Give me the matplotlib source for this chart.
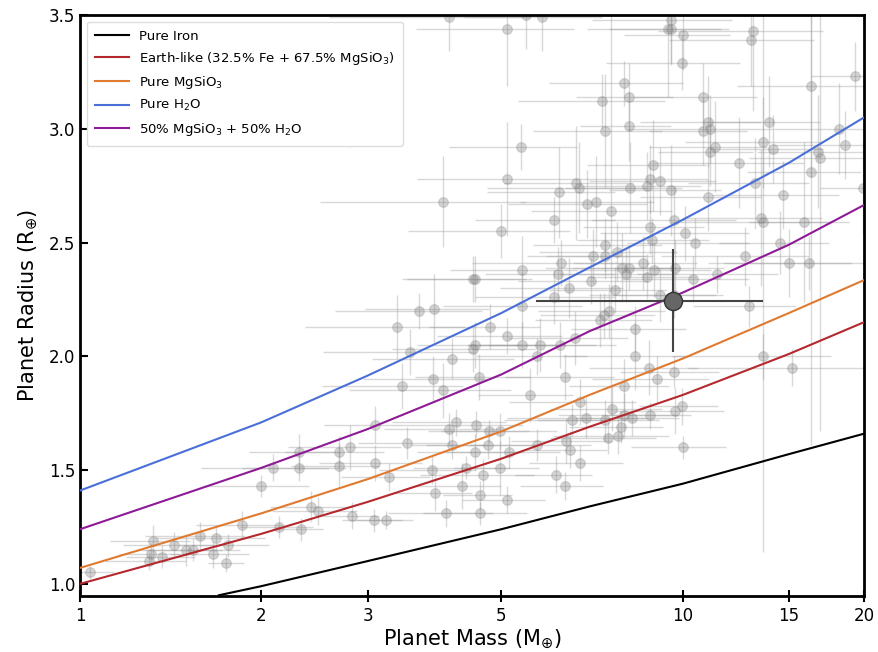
import matplotlib
matplotlib.use("Agg")
import matplotlib.pyplot as plt
import numpy as np

# model curves
curve_mass = [1, 2, 3, 5, 7, 10, 15, 20]
iron_mass = [1.7, 2, 3, 5, 7, 10, 15, 20]
iron_r = [0.95, 0.99, 1.10, 1.24, 1.34, 1.44, 1.57, 1.66]
earth_r = [1.00, 1.22, 1.36, 1.55, 1.69, 1.83, 2.01, 2.15]
mgsio3_r = [1.07, 1.31, 1.46, 1.67, 1.83, 1.99, 2.19, 2.335]
h2o_r = [1.41, 1.71, 1.915, 2.19, 2.39, 2.60, 2.85, 3.05]
mix_r = [1.24, 1.51, 1.68, 1.92, 2.11, 2.28, 2.49, 2.665]

# known planets: mass, radius, mass error, radius error
pl_mass = [1.04, 1.32, 1.31, 1.30, 1.37, 1.43, 1.50, 1.54, 1.58, 1.66, 1.68, 1.76, 1.75, 1.86, 2.00, 2.09,
           2.31, 2.31, 2.14, 2.33, 2.42, 2.48, 2.69, 2.69, 2.81, 2.83, 3.09, 3.09, 3.07, 3.22, 3.26, 3.49,
           3.84, 3.88, 4.05, 4.09, 4.20, 4.14, 4.30, 4.37,
           4.54, 4.52, 4.75, 4.77, 4.67, 4.61, 4.61, 4.98, 4.98, 5.11, 5.15, 5.74, 6.17, 6.38, 6.40, 6.50,
           6.55, 6.76, 6.92, 7.53, 7.63, 7.80, 7.89, 8.00, 8.25, 8.83, 7.44,
           10.0, 9.70, 9.96,
           9.67, 13.6, 15.2, 12.9, 9.70, 10.4, 11.4, 12.7, 10.1, 10.5, 9.67, 13.5, 13.6, 14.5, 15.0, 16.2,
           15.9, 9.67,
           5.00, 6.12, 4.52, 5.41, 5.41, 4.79, 4.52, 5.11, 5.41, 5.79, 5.74, 6.26, 6.63, 6.38, 5.58, 4.59,
           6.12, 6.20, 6.28, 6.47, 7.04, 7.11, 7.44, 7.44, 7.77, 7.71, 7.92, 8.04, 8.15, 8.58, 8.96, 8.73,
           8.83, 8.88, 7.29, 7.40, 7.55, 8.33, 8.33, 8.79, 9.07, 7.99, 6.76, 9.18,
           4.49, 3.65, 3.87, 3.36, 3.53, 4.15, 4.49, 3.85, 4.00, 3.42,
           2.81, 4.09, 4.00,
           5.11, 5.50, 5.84, 8.00, 8.15, 7.34, 7.44, 8.15, 5.39, 5.12, 6.23, 6.66, 6.73, 6.94, 7.18, 7.60,
           8.18, 8.73, 8.83, 8.93, 9.18, 9.45,
           9.56, 9.56, 10.0, 9.96, 13.1, 13.0, 19.3, 16.3, 10.8, 13.9, 11.0, 10.8, 11.1, 13.6, 14.1, 11.3,
           11.1, 12.4, 18.2, 18.6, 16.8, 16.9, 16.3, 13.2, 14.7, 9.56, 11.0, 19.9]
pl_radius = [1.05, 1.19, 1.13, 1.10, 1.12, 1.17, 1.15, 1.15, 1.21, 1.13, 1.20, 1.17, 1.09, 1.26, 1.43, 1.51,
             1.58, 1.51, 1.25, 1.24, 1.34, 1.32, 1.58, 1.52, 1.60, 1.30, 1.70, 1.53, 1.28, 1.28, 1.47, 1.62,
             1.50, 1.40, 1.31, 1.68, 1.71, 1.61, 1.43, 1.51,
             1.70, 1.58, 1.61, 1.67, 1.48, 1.39, 1.31, 1.51, 1.67, 1.37, 1.58, 1.61, 1.48, 1.43, 1.63, 1.59,
             1.72, 1.53, 1.73, 1.64, 1.77, 1.65, 1.69, 1.74, 1.73, 1.74, 1.72,
             1.60, 1.76, 1.78,
             1.93, 2.00, 1.95, 2.22, 2.39, 2.34, 2.36, 2.44, 2.54, 2.50, 2.60, 2.61, 2.59, 2.50, 2.41, 2.41,
             2.59, 2.27,
             2.55, 2.60, 2.34, 2.38, 2.22, 2.13, 2.05, 2.09, 2.05, 2.05, 2.00, 2.05, 2.08, 1.91, 1.83, 1.91,
             2.26, 2.36, 2.41, 2.30, 2.33, 2.44, 2.49, 2.44, 2.46, 2.29, 2.39, 2.36, 2.39, 2.41, 2.38, 2.35,
             2.57, 2.51, 2.16, 2.18, 2.20, 2.12, 2.00, 1.95, 1.90, 1.87, 1.80, 2.27,
             2.34, 2.20, 2.21, 2.13, 2.02, 1.99, 2.03, 1.90, 1.85, 1.87,
             3.00, 3.49, 2.68,
             3.44, 3.50, 3.49, 3.20, 3.14, 3.12, 2.99, 3.01, 2.92, 2.78, 2.72, 2.76, 2.74, 2.67, 2.68, 2.64,
             2.74, 2.75, 2.78, 2.84, 2.77, 3.44,
             3.48, 3.44, 3.41, 3.29, 3.43, 3.39, 3.23, 3.19, 3.14, 3.03, 3.03, 2.99, 3.00, 2.94, 2.91, 2.92,
             2.90, 2.85, 3.00, 2.93, 2.90, 2.87, 2.81, 2.76, 2.71, 2.73, 2.70, 2.74]
pl_mass_err = [0.10, 0.20, 0.15, 0.20, 0.18, 0.25, 0.22, 0.30, 0.30, 0.25, 0.35, 0.30, 0.12, 0.30, 0.40, 0.50,
               0.40, 0.45, 0.30, 0.20, 0.35, 0.40, 0.50, 0.45, 0.60, 0.30, 0.55, 0.60, 0.35, 0.35, 0.55, 0.60,
               0.70, 0.60, 0.80, 0.90, 0.90, 0.60, 0.70, 0.80,
               0.90, 0.90, 1.00, 0.80, 1.00, 0.60, 0.90, 0.80, 1.20, 0.80, 1.10, 1.30, 0.90, 1.00, 1.20, 1.00,
               1.50, 1.20, 1.80, 1.50, 1.60, 1.70, 1.40, 1.80, 1.60, 1.50, 1.70,
               1.80, 2.00, 1.50,
               1.80, 4.00, 5.00, 2.50, 2.00, 2.50, 3.00, 3.50, 2.80, 2.40, 2.60, 3.50, 4.00, 3.00, 4.00, 4.50,
               3.00, 2.00,
               1.50, 1.60, 1.10, 1.30, 1.40, 1.00, 0.90, 1.20, 1.00, 1.40, 1.20, 1.50, 1.50, 1.30, 1.00, 1.00,
               1.60, 1.50, 1.80, 1.50, 1.70, 1.60, 1.80, 1.50, 2.00, 1.70, 2.00, 1.80, 1.60, 2.00, 2.20, 1.80,
               2.00, 2.20, 1.60, 1.60, 1.80, 1.80, 2.00, 1.80, 2.00, 1.50, 1.60, 2.20,
               1.00, 1.00, 0.90, 1.00, 1.00, 1.10, 1.20, 0.90, 1.20, 0.90,
               0.30, 1.50, 1.50,
               1.50, 1.20, 1.50, 2.00, 1.50, 2.00, 1.80, 1.40, 1.30, 1.50, 1.50, 1.60, 2.00, 1.80, 1.80, 2.00,
               1.80, 2.00, 2.20, 2.00, 2.20, 2.50,
               2.50, 2.00, 2.00, 2.50, 4.00, 3.50, 3.00, 4.00, 2.50, 3.00, 2.50, 2.00, 3.00, 3.50, 3.00, 2.50,
               2.00, 3.50, 4.00, 4.50, 3.50, 4.00, 3.50, 3.00, 3.50, 2.00, 2.50, 3.00]
pl_radius_err = [0.03, 0.07, 0.05, 0.04, 0.05, 0.06, 0.07, 0.05, 0.06, 0.06, 0.05, 0.05, 0.04, 0.06, 0.05, 0.06,
                 0.08, 0.06, 0.05, 0.05, 0.07, 0.06, 0.07, 0.10, 0.10, 0.06, 0.08, 0.08, 0.05, 0.04, 0.06, 0.07,
                 0.06, 0.08, 0.06, 0.07, 0.06, 0.06, 0.10, 0.05,
                 0.06, 0.08, 0.06, 0.05, 0.07, 0.06, 0.05, 0.12, 0.08, 0.06, 0.07, 0.07, 0.08, 0.06, 0.10, 0.08,
                 0.07, 0.08, 0.09, 0.07, 0.10, 0.08, 0.07, 0.10, 0.08, 0.06, 0.09,
                 0.05, 0.10, 0.08,
                 0.07, 0.10, 0.08, 0.09, 0.12, 0.10, 0.08, 0.13, 0.12, 0.11, 0.15, 0.30, 1.45, 0.14, 0.15, 0.12,
                 0.35, 0.10,
                 0.12, 0.10, 0.10, 0.15, 0.15, 0.10, 0.10, 0.08, 0.10, 0.12, 0.08, 0.10, 0.12, 0.10, 0.12, 0.10,
                 0.12, 0.12, 0.10, 0.13, 0.10, 0.12, 0.12, 0.10, 0.13, 0.10, 0.15, 0.12, 0.10, 0.12, 0.12, 0.10,
                 0.12, 0.10, 0.12, 0.10, 0.12, 0.10, 0.15, 0.12, 0.10, 0.12, 0.10, 0.12,
                 0.10, 0.08, 0.15, 0.14, 0.10, 0.09, 0.10, 0.10, 0.12, 0.10,
                 0.08, 0.15, 0.20,
                 0.25, 0.15, 0.15, 0.10, 0.15, 0.12, 0.25, 0.15, 0.10, 0.25, 0.20, 0.25, 0.20, 0.15, 0.20, 0.90,
                 0.20, 0.15, 0.15, 0.20, 0.15, 0.30,
                 0.20, 0.15, 0.15, 0.12, 0.35, 0.20, 0.15, 0.40, 0.15, 0.20, 0.20, 0.15, 0.15, 0.20, 0.15, 0.20,
                 0.15, 0.20, 0.20, 0.15, 0.25, 1.20, 1.20, 0.20, 0.15, 0.20, 0.15, 0.20]

# highlighted planet
hl_mass, hl_radius = 9.64, 2.245
hl_mass_err, hl_radius_err = 3.94, 0.225

fig = plt.figure(figsize=(8.79, 6.52), dpi=100)
ax = fig.add_axes([0.091, 0.086, 0.892, 0.891])

ax.errorbar(pl_mass, pl_radius, xerr=pl_mass_err, yerr=pl_radius_err, fmt='o', ms=7,
            mfc=(0.5, 0.5, 0.5, 0.33), mec=(0.5, 0.5, 0.5, 0.25), ecolor=(0.6, 0.6, 0.6, 0.38),
            elinewidth=1, capsize=0, zorder=1)

ax.plot(iron_mass, iron_r, color='black', lw=1.5, label='Pure Iron', zorder=3)
ax.plot(curve_mass, earth_r, color='#b5282e', lw=1.5,
        label=r'Earth-like (32.5% Fe + 67.5% MgSiO$_3$)', zorder=3)
ax.plot(curve_mass, mgsio3_r, color='#e07a30', lw=1.5, label=r'Pure MgSiO$_3$', zorder=3)
ax.plot(curve_mass, h2o_r, color='#4a6fd8', lw=1.5, label=r'Pure H$_2$O', zorder=3)
ax.plot(curve_mass, mix_r, color='#8e1a96', lw=1.5, label=r'50% MgSiO$_3$ + 50% H$_2$O', zorder=3)

ax.errorbar([hl_mass], [hl_radius], xerr=[hl_mass_err], yerr=[hl_radius_err], fmt='o', ms=13,
            mfc='#666666', mec='#333333', ecolor='#444444', elinewidth=1.5, capsize=0, zorder=5)

ax.set_xscale('log')
ax.set_xlim(1, 20)
ax.set_ylim(0.947, 3.5)
xt = [1, 2, 3, 5, 10, 15, 20]
ax.set_xticks(xt)
ax.set_xticklabels([str(v) for v in xt])
ax.xaxis.set_minor_locator(matplotlib.ticker.NullLocator())
ax.set_yticks([1.0, 1.5, 2.0, 2.5, 3.0, 3.5])
ax.tick_params(axis='x', direction='inout', length=9, width=1.5, labelsize=12)
ax.tick_params(axis='y', direction='in', length=6, width=1.5, labelsize=12)
for s in ax.spines.values():
    s.set_linewidth(2)

ax.set_xlabel(r'Planet Mass (M$_{\oplus}$)', fontsize=15, labelpad=2)
ax.set_ylabel(r'Planet Radius (R$_{\oplus}$)', fontsize=15, labelpad=6)

ax.legend(loc='upper left', fontsize=9.5, frameon=True, handlelength=2.6, borderpad=0.6,
          labelspacing=0.55, framealpha=1, edgecolor='#dddddd')

fig.savefig('out.png', dpi=100)
